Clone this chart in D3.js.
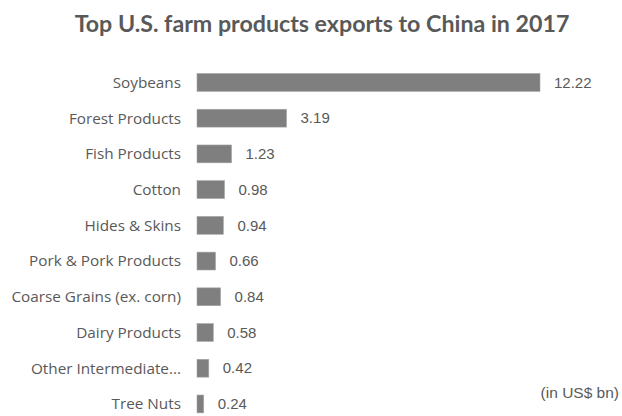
<!DOCTYPE html>
<html>
<head>
<meta charset="utf-8">
<script src="https://cdn.jsdelivr.net/npm/d3@7"></script>
<style>
  body { margin: 0; background: #fff; }
  svg { display: block; }
</style>
</head>
<body>
<script>
const categories = [
  'Soybeans',
  'Forest Products',
  'Fish Products',
  'Cotton',
  'Hides & Skins',
  'Pork & Pork Products',
  'Coarse Grains (ex. corn)',
  'Dairy Products',
  'Other Intermediate...',
  'Tree Nuts',
];
const values = [12.22, 3.19, 1.23, 0.98, 0.94, 0.66, 0.84, 0.58, 0.42, 0.24];
const title = 'Top U.S. farm products exports to China in 2017';
const unitNote = '(in US$ bn)';

const width = 622;
const height = 416;

const svg = d3
  .select('body')
  .append('svg')
  .attr('width', width)
  .attr('height', height);

// x scale: bars start at 197, 12.22 ends near 540
const x = d3.scaleLinear().domain([0, 12.22]).range([197, 540]);

// rows step ~35.7px, bar ~17.5px
const y = d3
  .scaleBand()
  .domain(categories)
  .range([64.6, 64.6 + 35.72 * 10])
  .paddingInner(0.5)
  .paddingOuter(0.25);

// title
const titleText = svg
  .append('text')
  .attr('x', 322)
  .attr('y', 32)
  .attr('text-anchor', 'middle')
  .style('font-family', 'Lato, sans-serif')
  .style('font-weight', 700)
  .style('font-size', '22px')
  .style('fill', '#595959')
  .text(title);
// fit the title to the reference width
const tw = titleText.node().getComputedTextLength();
titleText.style('font-size', (22 * 495) / tw + 'px');

// category labels
svg
  .append('g')
  .selectAll('text')
  .data(categories)
  .join('text')
  .attr('x', 181)
  .attr('y', (d) => y(d) + y.bandwidth() / 2)
  .attr('dy', '0.35em')
  .attr('text-anchor', 'end')
  .style('font-family', '"Open Sans", sans-serif')
  .style('font-size', '15.3px')
  .style('fill', '#595959')
  .text((d) => d);

// bars
svg
  .append('g')
  .selectAll('rect')
  .data(values)
  .join('rect')
  .attr('x', x(0))
  .attr('y', (d, i) => y(categories[i]))
  .attr('width', (d) => x(d) - x(0))
  .attr('height', y.bandwidth())
  .attr('fill', '#7f7f7f')
  .attr('stroke', '#a6a6a6')
  .attr('stroke-width', 0.6);

// value labels
svg
  .append('g')
  .selectAll('text')
  .data(values)
  .join('text')
  .attr('x', (d) => x(d) + 14)
  .attr('y', (d, i) => y(categories[i]) + y.bandwidth() / 2)
  .attr('dy', '0.35em')
  .style('font-family', '"Liberation Sans", Arial, sans-serif')
  .style('font-size', '15px')
  .style('fill', '#595959')
  .text((d) => d.toFixed(2));

// unit note
svg
  .append('text')
  .attr('x', 619)
  .attr('y', 398)
  .attr('text-anchor', 'end')
  .style('font-family', '"Liberation Sans", Arial, sans-serif')
  .style('font-size', '15.5px')
  .style('fill', '#595959')
  .text(unitNote);
</script>
</body>
</html>
